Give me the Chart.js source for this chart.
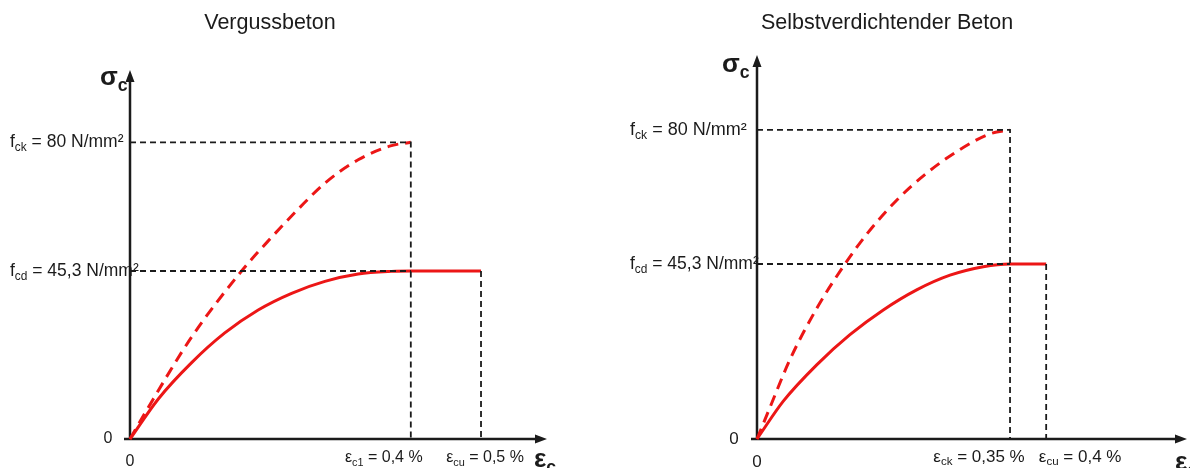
<!DOCTYPE html>
<html>
<head>
<meta charset="utf-8">
<script src="https://cdn.jsdelivr.net/npm/chart.js@4.4.1/dist/chart.umd.min.js"></script>
<style>
  body { margin: 0; background: #fff; }
  .panel { position: absolute; top: 0; width: 595px; height: 468px; }
</style>
</head>
<body>
<div class="panel" style="left:0"><canvas id="left" width="595" height="468"></canvas></div>
<div class="panel" style="left:595px"><canvas id="right" width="595" height="468"></canvas></div>
<script>
// --- Vergussbeton (left) ---
var epsDashL = [0, 0.0214, 0.0878, 0.159, 0.2017, 0.2397, 0.2776, 0.325, 0.3725, 0.4];
var sigDashL = [0, 7.0, 27.5, 45.3, 54.4, 62.0, 69.0, 75.3, 79.1, 80];
var epsSolidL = [0, 0.0403, 0.0878, 0.135, 0.1826, 0.2302, 0.2776, 0.325, 0.3725, 0.4, 0.5];
var sigSolidL = [0, 10.8, 20.6, 28.6, 34.8, 39.3, 42.5, 44.5, 45.2, 45.3, 45.3];
var fckL = 80, fcdL = 45.3, epsC1L = 0.4, epsCuL = 0.5;

// --- Selbstverdichtender Beton (right) ---
var epsDashR = [0, 0.018, 0.0457, 0.0826, 0.1217, 0.1517, 0.1932, 0.2347, 0.2762, 0.3223, 0.35];
var sigDashR = [0, 8.2, 20.6, 33.8, 45.3, 53.0, 61.8, 68.8, 74.4, 79.0, 80];
var epsSolidR = [0, 0.0364, 0.0826, 0.1286, 0.1747, 0.2209, 0.267, 0.313, 0.35, 0.4];
var sigSolidR = [0, 9.8, 19.2, 27.0, 33.4, 38.6, 42.4, 44.6, 45.3, 45.3];
var fckR = 80, fcdR = 45.3, epsCkR = 0.35, epsCuR = 0.4;

var RED = 'rgb(236, 22, 22)';
var INK = '#1b1b1b';
var FONT = '"Liberation Sans", Arial, sans-serif';

function pts(xs, ys) {
    return xs.map(function (x, i) { return { x: x, y: ys[i] }; });
}

function guide(data) {
    return {
        data: data, showLine: true, pointRadius: 0, borderColor: INK,
        borderWidth: 1.8, borderDash: [6, 4], tension: 0, clip: false
    };
}

function curve(data, dashed) {
    return {
        data: data, showLine: true, pointRadius: 0, borderColor: RED,
        borderWidth: 3, borderDash: dashed ? [11, 7] : [],
        cubicInterpolationMode: 'monotone', clip: false
    };
}

// text with subscripts: parts = [[text, isSub], ...]
function drawParts(ctx, parts, x, y, size, bold, align) {
    var weight = bold ? 'bold ' : '';
    var w = 0;
    parts.forEach(function (p) {
        ctx.font = weight + (p[1] ? size * 0.68 : size) + 'px ' + FONT;
        w += ctx.measureText(p[0]).width;
    });
    var cx = align === 'right' ? x - w : (align === 'center' ? x - w / 2 : x);
    parts.forEach(function (p) {
        ctx.font = weight + (p[1] ? size * 0.68 : size) + 'px ' + FONT;
        ctx.fillText(p[0], cx, y + (p[1] ? size * 0.3 : 0));
        cx += ctx.measureText(p[0]).width;
    });
}

var sketch = {
    id: 'sketch',
    beforeDatasetsDraw: function (chart) {
        var ctx = chart.ctx, a = chart.chartArea;
        var x0 = chart.scales.x.getPixelForValue(0);
        var y0 = chart.scales.y.getPixelForValue(0);
        ctx.save();
        ctx.strokeStyle = INK;
        ctx.fillStyle = INK;
        ctx.lineWidth = 2.5;
        ctx.beginPath();
        ctx.moveTo(x0, y0 + 1);
        ctx.lineTo(x0, a.top + 8);
        ctx.moveTo(x0 - 6, y0);
        ctx.lineTo(a.right - 8, y0);
        ctx.stroke();
        ctx.beginPath();
        ctx.moveTo(x0, a.top);
        ctx.lineTo(x0 - 4.5, a.top + 12);
        ctx.lineTo(x0 + 4.5, a.top + 12);
        ctx.closePath();
        ctx.moveTo(a.right, y0);
        ctx.lineTo(a.right - 12, y0 - 4.5);
        ctx.lineTo(a.right - 12, y0 + 4.5);
        ctx.closePath();
        ctx.fill();
        ctx.restore();
    },
    afterDraw: function (chart, args, opts) {
        var ctx = chart.ctx;
        var sx = chart.scales.x, sy = chart.scales.y;
        ctx.save();
        ctx.fillStyle = INK;
        ctx.textBaseline = 'middle';
        ctx.font = '21.5px ' + FONT;
        ctx.textAlign = 'center';
        ctx.fillText(opts.title.text, opts.title.x, opts.title.y);
        ctx.textAlign = 'left';
        opts.labels.forEach(function (l) {
            drawParts(ctx, l.parts, sx.getPixelForValue(l.x) + l.dx,
                sy.getPixelForValue(l.y) + l.dy, l.size, l.bold, l.align);
        });
        ctx.restore();
    }
};

function makeChart(id, datasets, xMax, yMax, pad, title, labels) {
    return new Chart(document.getElementById(id), {
        type: 'scatter',
        data: { datasets: datasets },
        options: {
            responsive: false,
            animation: false,
            events: [],
            layout: { padding: pad },
            scales: {
                x: { type: 'linear', min: 0, max: xMax, display: false },
                y: { type: 'linear', min: 0, max: yMax, display: false }
            },
            plugins: {
                legend: { display: false },
                tooltip: { enabled: false },
                sketch: { title: title, labels: labels }
            }
        },
        plugins: [sketch]
    });
}

makeChart('left', [
    guide([{ x: 0, y: fckL }, { x: epsC1L, y: fckL }, { x: epsC1L, y: 0 }]),
    guide([{ x: 0, y: fcdL }, { x: epsC1L, y: fcdL }]),
    guide([{ x: epsCuL, y: fcdL }, { x: epsCuL, y: 0 }]),
    curve(pts(epsDashL, sigDashL), true),
    curve(pts(epsSolidL, sigSolidL), false)
], 0.594, 99.5, { left: 130, right: 48, top: 70, bottom: 29 },
    { text: 'Vergussbeton', x: 270, y: 23 },
    [
        { parts: [['f', 0], ['ck', 1], [' = 80 N/mm²', 0]], x: 0, y: fckL, dx: -120, dy: 0, size: 17.5, align: 'left' },
        { parts: [['f', 0], ['cd', 1], [' = 45,3 N/mm²', 0]], x: 0, y: fcdL, dx: -120, dy: 0, size: 17.5, align: 'left' },
        { parts: [['0', 0]], x: 0, y: 0, dx: -22, dy: 0, size: 16, align: 'center' },
        { parts: [['0', 0]], x: 0, y: 0, dx: 0, dy: 23, size: 16, align: 'center' },
        { parts: [['ε', 0], ['c1', 1], [' = 0,4 %', 0]], x: epsC1L, y: 0, dx: -27, dy: 19, size: 16, align: 'center' },
        { parts: [['ε', 0], ['cu', 1], [' = 0,5 %', 0]], x: epsCuL, y: 0, dx: 4, dy: 19, size: 16, align: 'center' },
        { parts: [['σ', 0], ['c', 1]], x: 0, y: 99.5, dx: -30, dy: 8, size: 26, bold: true, align: 'left' },
        { parts: [['ε', 0], ['c', 1]], x: 0.594, y: 0, dx: -13, dy: 21, size: 26, bold: true, align: 'left' }
    ]);

makeChart('right', [
    guide([{ x: 0, y: fckR }, { x: epsCkR, y: fckR }, { x: epsCkR, y: 0 }]),
    guide([{ x: 0, y: fcdR }, { x: epsCkR, y: fcdR }]),
    guide([{ x: epsCuR, y: fcdR }, { x: epsCuR, y: 0 }]),
    curve(pts(epsDashR, sigDashR), true),
    curve(pts(epsSolidR, sigSolidR), false)
], 0.5948, 99.4, { left: 162, right: 3, top: 55, bottom: 29 },
    { text: 'Selbstverdichtender Beton', x: 292, y: 23 },
    [
        { parts: [['f', 0], ['ck', 1], [' = 80 N/mm²', 0]], x: 0, y: fckR, dx: -127, dy: 0, size: 18, align: 'left' },
        { parts: [['f', 0], ['cd', 1], [' = 45,3 N/mm²', 0]], x: 0, y: fcdR, dx: -127, dy: 0, size: 17.5, align: 'left' },
        { parts: [['0', 0]], x: 0, y: 0, dx: -23, dy: 0, size: 17, align: 'center' },
        { parts: [['0', 0]], x: 0, y: 0, dx: 0, dy: 23, size: 17, align: 'center' },
        { parts: [['ε', 0], ['ck', 1], [' = 0,35 %', 0]], x: epsCkR, y: 0, dx: -31, dy: 18, size: 17, align: 'center' },
        { parts: [['ε', 0], ['cu', 1], [' = 0,4 %', 0]], x: epsCuR, y: 0, dx: 34, dy: 18, size: 17, align: 'center' },
        { parts: [['σ', 0], ['c', 1]], x: 0, y: 99.4, dx: -35, dy: 10, size: 26, bold: true, align: 'left' },
        { parts: [['ε', 0], ['c', 1]], x: 0.5948, y: 0, dx: -12, dy: 24, size: 26, bold: true, align: 'left' }
    ]);
</script>
</body>
</html>
